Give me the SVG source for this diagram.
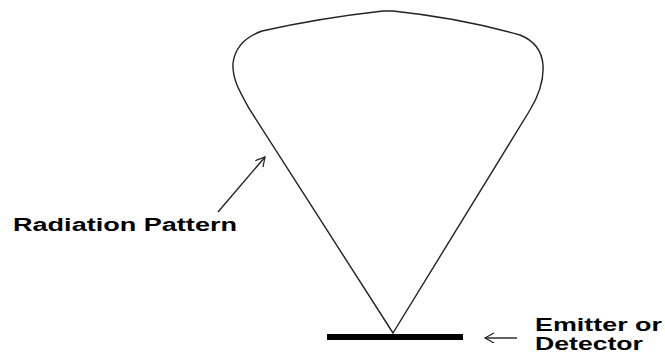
<svg xmlns="http://www.w3.org/2000/svg" width="665" height="354" viewBox="0 0 665 354">
<defs>
<style>
.lbl{font-family:"Liberation Sans",Arial,sans-serif;font-weight:bold;font-size:18px;fill:#000}
.ln{fill:none;stroke:#222;stroke-width:1.4}
</style>
<marker id="open" markerWidth="12" markerHeight="12" refX="10" refY="5" orient="auto" markerUnits="userSpaceOnUse">
<path d="M1,0 L10,5 L1,10" fill="none" stroke="#222" stroke-width="1.2"/>
</marker>
</defs>
<rect width="665" height="354" fill="#fff"/>
<g id="pattern">
<path class="ln" d="M393,333 L250,110 C241,94 232,80 233,63 C235,48 245,37 262,31 Q320,18 383,11 L393,11 Q460,18 520,35 C535,41 542,52 543,65 C544,80 539,95 530,110 L393,333 Z"/>
</g>
<g id="emitter">
<rect x="327" y="334" width="136" height="6" fill="#000"/>
</g>
<g id="label-radiation">
<text class="lbl" x="13" y="231" textLength="224" lengthAdjust="spacingAndGlyphs">Radiation Pattern</text>
</g>
<g id="label-emitter">
<text class="lbl" x="535" y="331" textLength="127" lengthAdjust="spacingAndGlyphs">Emitter or</text>
<text class="lbl" x="535" y="350" textLength="108" lengthAdjust="spacingAndGlyphs">Detector</text>
</g>
<g id="connectors">
<line class="ln" x1="218" y1="212" x2="265" y2="157" marker-end="url(#open)"/>
<line class="ln" x1="517" y1="338" x2="485" y2="338" marker-end="url(#open)"/>
</g>
</svg>
